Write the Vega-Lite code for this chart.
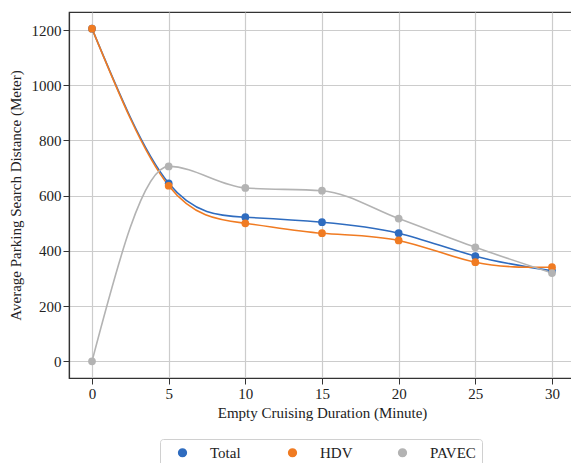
{
  "$schema": "https://vega.github.io/schema/vega-lite/v6.json",
  "width": 506,
  "height": 366,
  "autosize": {"type": "none"},
  "padding": {"left": 69, "top": 12, "right": 0, "bottom": 85},
  "background": "white",
  "config": {
    "font": "Liberation Serif",
    "view": {"stroke": "#333", "strokeWidth": 1.2},
    "axis": {
      "labelFont": "Liberation Serif",
      "titleFont": "Liberation Serif",
      "labelFontSize": 15,
      "titleFontSize": 15,
      "titleFontWeight": "normal",
      "labelColor": "#222",
      "titleColor": "#222",
      "gridColor": "#cccccc",
      "gridWidth": 1.2,
      "domainColor": "#333",
      "domainWidth": 1.2,
      "tickColor": "#333",
      "tickSize": 6,
      "labelPadding": 2
    },
    "legend": {
      "labelFont": "Liberation Serif",
      "labelFontSize": 15,
      "labelColor": "#222"
    }
  },
  "data": {
    "values": [
      {"x": 0, "y": 1205, "s": "Total"},
      {"x": 5, "y": 645, "s": "Total"},
      {"x": 10, "y": 522, "s": "Total"},
      {"x": 15, "y": 504, "s": "Total"},
      {"x": 20, "y": 464, "s": "Total"},
      {"x": 25, "y": 381, "s": "Total"},
      {"x": 30, "y": 328, "s": "Total"},
      {"x": 0, "y": 1205, "s": "HDV"},
      {"x": 5, "y": 636, "s": "HDV"},
      {"x": 10, "y": 500, "s": "HDV"},
      {"x": 15, "y": 464, "s": "HDV"},
      {"x": 20, "y": 438, "s": "HDV"},
      {"x": 25, "y": 359, "s": "HDV"},
      {"x": 30, "y": 341, "s": "HDV"},
      {"x": 0, "y": 0, "s": "PAVEC"},
      {"x": 5, "y": 706, "s": "PAVEC"},
      {"x": 10, "y": 628, "s": "PAVEC"},
      {"x": 15, "y": 618, "s": "PAVEC"},
      {"x": 20, "y": 517, "s": "PAVEC"},
      {"x": 25, "y": 413, "s": "PAVEC"},
      {"x": 30, "y": 320, "s": "PAVEC"}
    ]
  },
  "encoding": {
    "x": {
      "field": "x", "type": "quantitative",
      "scale": {"domain": [-1.5, 31.5], "nice": false, "zero": false},
      "axis": {"values": [0, 5, 10, 15, 20, 25, 30], "title": "Empty Cruising Duration (Minute)", "titlePadding": 4}
    },
    "y": {
      "field": "y", "type": "quantitative",
      "scale": {"domain": [-60.25, 1265.25], "nice": false, "zero": false},
      "axis": {"values": [0, 200, 400, 600, 800, 1000, 1200], "format": "d", "title": "Average Parking Search Distance (Meter)", "titlePadding": 8}
    },
    "color": {
      "field": "s", "type": "nominal",
      "scale": {"domain": ["Total", "HDV", "PAVEC"], "range": ["#2f6cbf", "#f07b22", "#b3b3b3"]},
      "legend": {
        "title": null,
        "orient": "none",
        "legendX": 91,
        "legendY": 427,
        "direction": "horizontal",
        "columns": 3,
        "gridAlign": "all",
        "symbolType": "circle",
        "symbolSize": 60,
        "symbolOffset": 9,
        "labelOffset": 20,
        "columnPadding": 20,
        "padding": 6,
        "strokeColor": "#d0d0d0",
        "cornerRadius": 3,
        "fillColor": "white"
      }
    }
  },
  "layer": [
    {
      "transform": [{"filter": "datum.s !== 'PAVEC'"}],
      "mark": {"type": "line", "interpolate": "natural", "strokeWidth": 1.6}
    },
    {
      "transform": [{"filter": "datum.s === 'PAVEC'"}],
      "mark": {"type": "line", "interpolate": "monotone", "strokeWidth": 1.6}
    },
    {"mark": {"type": "point", "filled": true, "opacity": 1, "size": 60}}
  ]
}
